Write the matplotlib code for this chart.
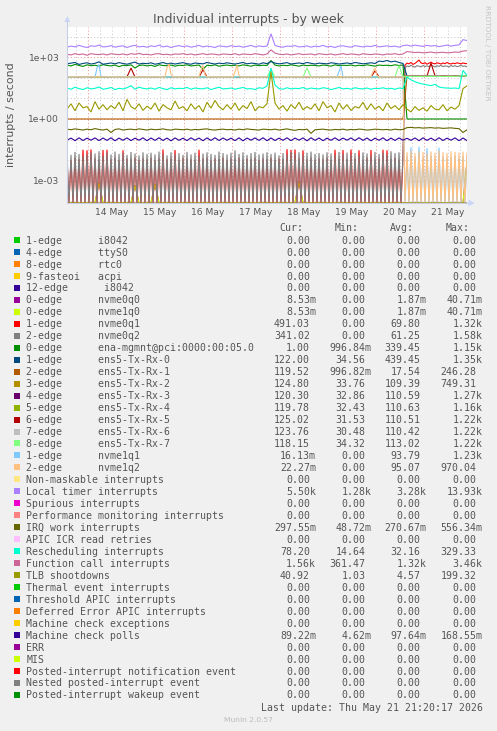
import numpy as np
import matplotlib
matplotlib.use("Agg")
import matplotlib.pyplot as plt
from matplotlib.patches import Rectangle, Polygon
from matplotlib.lines import Line2D

# ---------------- time axes (hours since 13 May 13:45) ----------------
HOURS_2H = np.arange(0, 201, 2)   # 101 samples
HOURS_1H = np.arange(0, 201, 1)   # 201 samples
DAY_LABELS = ['14 May', '15 May', '16 May', '17 May', '18 May', '19 May', '20 May', '21 May']
FIRST_MIDNIGHT = 10.25            # 14 May 00:00 in hours since start

# ---------------- series values (2-hour grid, 101 values) ----------------
LOCAL_TIMER = [
    3100, 3500, 3200, 3800, 3300, 3000, 3600, 3400, 3900, 3200,
    3300, 3700, 3100, 3400, 3600, 3000, 3500, 3800, 3200, 3400,
    3100, 3600, 3300, 3900, 3200, 3500, 3000, 3400, 3700, 3300,
    3600, 3100, 3400, 3800, 3200, 3500, 3300, 3000, 3600, 3400,
    3200, 3700, 3300, 3500, 3100, 3400, 3800, 3200, 3600, 3300,
    3500, 13900, 3800, 3300, 3100, 3500, 3400, 3700, 3200, 3300,
    3600, 3100, 3500, 3300, 3800, 3200, 3400, 3000, 3500, 3600,
    3300, 3100, 3700, 3400, 3200, 3500, 3300, 3800, 3200, 3400,
    3600, 3300, 3500, 3100, 3700, 3900, 3500, 3900, 3600, 3400,
    3800, 3500, 3700, 3300, 3600, 3900, 3500, 3800, 4000, 7200,
    6500]

FUNCTION_CALL = [
    1400, 1300, 1500, 1350, 1450, 1250, 1500, 1400, 1350, 1450,
    1300, 1500, 1400, 1350, 1450, 1300, 1500, 1400, 1550, 1350,
    1400, 1300, 1450, 1500, 1350, 1400, 1300, 1450, 1400, 1500,
    1350, 1450, 1300, 1400, 1500, 1350, 1450, 1400, 1300, 1450,
    1400, 1350, 1500, 1300, 1450, 1400, 1350, 1500, 1400, 1300,
    1450, 2300, 1600, 1400, 1350, 1450, 1300, 1400, 1500, 1350,
    1400, 1450, 1300, 1500, 1400, 1350, 1450, 1300, 1400, 1500,
    1350, 1450, 1400, 1300, 1500, 1400, 1350, 1450, 1400, 1300,
    1450, 1400, 1500, 1350, 1450, 1900, 1800, 1700, 1750, 1650,
    1700, 1800, 1650, 1700, 1750, 1650, 1700, 1800, 1750, 2000,
    2100]

TX_RX_0 = [
    480, 520, 560, 450, 500, 540, 470, 510, 600, 460,
    490, 530, 480, 550, 500, 460, 520, 580, 470, 510,
    490, 540, 460, 500, 560, 480, 520, 470, 510, 550,
    490, 460, 530, 500, 480, 560, 510, 470, 520, 490,
    540, 500, 470, 510, 560, 480, 520, 500, 460, 540,
    490, 620, 520, 480, 510, 550, 470, 500, 530, 490,
    560, 510, 470, 520, 500, 480, 540, 510, 470, 500,
    530, 490, 560, 520, 480, 510, 540, 500, 650, 620,
    700, 600, 650, 560, 500, 125, 118, 122, 120, 115,
    124, 119, 121, 117, 123, 120, 118, 122, 119, 121,
    122]

ENA_MGMNT = [
    420, 380, 450, 400, 360, 430, 390, 410, 370, 440,
    400, 380, 420, 350, 410, 390, 430, 300, 400, 420,
    380, 410, 360, 430, 400, 390, 420, 370, 410, 400,
    430, 380, 400, 420, 260, 410, 390, 430, 370, 400,
    420, 390, 410, 380, 430, 400, 370, 420, 390, 410,
    400, 700, 420, 380, 410, 390, 430, 400, 370, 420,
    390, 410, 400, 380, 420, 400, 370, 430, 390, 410,
    400, 420, 380, 410, 390, 430, 400, 370, 420, 400,
    410, 390, 430, 400, 420, 1.0, 1.0, 1.0, 1.0, 1.0,
    1.0, 1.0, 1.0, 1.0, 1.0, 1.0, 1.0, 1.0, 1.0, 1.0,
    1.0]

TX_RX_1 = [
    1.0, 1.0, 1.0, 1.0, 1.0, 1.0, 1.0, 1.0, 1.0, 1.0,
    1.0, 1.0, 1.0, 1.0, 1.0, 1.0, 1.0, 1.0, 1.0, 1.0,
    1.0, 1.0, 1.0, 1.0, 1.0, 1.0, 1.0, 1.0, 1.0, 1.0,
    1.0, 1.0, 1.0, 1.0, 1.0, 1.0, 1.0, 1.0, 1.0, 1.0,
    1.0, 1.0, 1.0, 1.0, 1.0, 1.0, 1.0, 1.0, 1.0, 1.0,
    1.0, 1.0, 1.0, 1.0, 1.0, 1.0, 1.0, 1.0, 1.0, 1.0,
    1.0, 1.0, 1.0, 1.0, 1.0, 1.0, 1.0, 1.0, 1.0, 1.0,
    1.0, 1.0, 1.0, 1.0, 1.0, 1.0, 1.0, 1.0, 1.0, 1.0,
    1.0, 1.0, 1.0, 1.0, 1.0, 118, 121, 119, 122, 120,
    117, 121, 119, 123, 120, 118, 122, 120, 119, 121,
    120]

TX_RX_2 = [
    112, 108, 115, 110, 113, 107, 114, 111, 109, 116,
    110, 113, 108, 112, 115, 109, 111, 114, 107, 112,
    113, 109, 115, 110, 108, 114, 111, 112, 109, 113,
    110, 115, 108, 112, 111, 109, 114, 110, 113, 108,
    112, 115, 109, 111, 113, 108, 114, 110, 112, 109,
    113, 111, 108, 115, 110, 112, 109, 114, 111, 108,
    112, 115, 110, 109, 113, 111, 108, 114, 112, 110,
    109, 113, 111, 115, 108, 112, 110, 114, 109, 111,
    113, 108, 112, 115, 110, 126, 122, 124, 120, 123,
    121, 125, 119, 122, 124, 120, 123, 121, 125, 122,
    125]

TX_RX_3 = [
    110, 114, 109, 112, 108, 115, 111, 113, 110, 107,
    112, 109, 114, 111, 108, 113, 110, 115, 112, 109,
    111, 114, 108, 112, 110, 113, 109, 115, 111, 108,
    113, 110, 112, 109, 114, 111, 108, 113, 110, 112,
    109, 114, 111, 108, 112, 110, 115, 109, 113, 111,
    108, 112, 114, 110, 109, 113, 111, 108, 115, 112,
    110, 113, 109, 112, 114, 108, 111, 110, 113, 109,
    112, 115, 110, 108, 113, 111, 109, 114, 112, 110,
    108, 113, 111, 109, 112, 118, 121, 119, 122, 120,
    123, 119, 121, 118, 122, 120, 124, 119, 121, 120,
    120]

TX_RX_4 = [
    111, 109, 113, 112, 108, 114, 110, 112, 109, 115,
    110, 112, 111, 108, 114, 109, 113, 110, 112, 111,
    109, 113, 110, 114, 111, 108, 112, 115, 109, 111,
    112, 108, 113, 110, 115, 109, 111, 112, 108, 114,
    110, 113, 109, 112, 111, 114, 108, 110, 113, 112,
    111, 109, 114, 112, 108, 113, 110, 111, 109, 115,
    113, 110, 112, 108, 111, 114, 109, 113, 110, 112,
    111, 108, 114, 110, 112, 109, 113, 111, 115, 108,
    112, 110, 113, 111, 109, 117, 120, 118, 121, 119,
    122, 118, 120, 117, 121, 119, 122, 118, 120, 119,
    120]

TX_RX_5 = [
    112, 110, 114, 109, 113, 111, 108, 115, 110, 112,
    109, 113, 111, 114, 108, 112, 300, 110, 113, 109,
    114, 111, 108, 112, 110, 115, 109, 113, 111, 108,
    112, 114, 110, 109, 250, 111, 113, 108, 112, 110,
    115, 109, 111, 113, 108, 112, 110, 114, 109, 111,
    113, 108, 112, 110, 115, 109, 111, 113, 108, 112,
    110, 114, 109, 111, 113, 108, 112, 115, 110, 109,
    113, 111, 108, 112, 114, 110, 109, 220, 111, 113,
    108, 112, 110, 114, 109, 124, 127, 123, 126, 125,
    122, 520, 126, 123, 127, 124, 125, 122, 126, 124,
    125]

TX_RX_6 = [
    110, 112, 109, 113, 111, 108, 114, 110, 112, 109,
    113, 111, 108, 112, 110, 114, 109, 111, 113, 108,
    112, 110, 114, 109, 111, 113, 108, 112, 110, 115,
    109, 111, 113, 108, 112, 110, 114, 109, 111, 113,
    108, 112, 110, 115, 109, 111, 113, 108, 112, 110,
    114, 109, 111, 113, 108, 112, 110, 114, 109, 111,
    113, 108, 112, 110, 115, 109, 111, 113, 108, 112,
    110, 114, 109, 111, 113, 108, 112, 110, 114, 109,
    111, 113, 108, 112, 110, 122, 125, 121, 124, 123,
    120, 124, 122, 125, 121, 123, 124, 120, 122, 124,
    124]

TX_RX_7 = [
    113, 110, 112, 115, 109, 111, 114, 112, 110, 113,
    111, 114, 109, 112, 113, 110, 115, 111, 112, 109,
    114, 112, 110, 113, 111, 109, 115, 112, 110, 113,
    112, 109, 114, 111, 113, 110, 112, 115, 109, 111,
    113, 110, 112, 114, 109, 112, 111, 113, 110, 115,
    112, 250, 113, 110, 112, 114, 109, 111, 113, 110,
    300, 112, 110, 114, 111, 109, 113, 112, 110, 115,
    111, 113, 110, 112, 114, 109, 111, 113, 110, 112,
    114, 111, 113, 400, 115, 118, 116, 119, 117, 118,
    120, 117, 119, 116, 118, 117, 119, 118, 121, 130,
    118]

RESCHEDULING = [
    32, 28, 35, 30, 27, 33, 29, 31, 36, 28,
    30, 34, 27, 31, 29, 33, 42, 28, 35, 31,
    29, 32, 28, 34, 30, 27, 33, 29, 31, 30,
    34, 28, 32, 30, 29, 33, 27, 31, 35, 29,
    30, 32, 28, 31, 34, 29, 30, 27, 33, 31,
    40, 300, 45, 30, 28, 33, 29, 31, 30, 34,
    28, 32, 30, 29, 33, 31, 27, 30, 34, 29,
    31, 28, 33, 30, 29, 32, 28, 31, 30, 33,
    29, 31, 28, 32, 30, 110, 80, 65, 55, 50,
    45, 42, 48, 36, 33, 32, 31, 32, 30, 230,
    130]

TLB_SHOOTDOWNS = [
    3.0, 5.5, 2.5, 6.0, 3.5, 4.0, 2.2, 7.0, 3.0, 5.0,
    2.8, 4.5, 3.2, 6.5, 2.5, 9.0, 4.0, 3.0, 5.5, 2.6,
    4.2, 3.0, 6.0, 2.4, 5.0, 3.5, 2.8, 7.5, 3.2, 4.0,
    2.5, 5.5, 3.0, 4.5, 2.2, 6.5, 3.4, 8.0, 4.0, 2.8,
    5.0, 3.0, 6.0, 2.6, 4.5, 3.2, 7.0, 2.5, 4.0, 3.5,
    5.5, 199, 6.0, 3.0, 4.5, 2.4, 5.0, 3.2, 6.5, 2.8,
    4.0, 3.0, 5.5, 2.5, 7.0, 3.5, 4.5, 2.2, 6.0, 3.0,
    5.0, 2.6, 4.0, 3.4, 6.5, 2.8, 5.5, 3.0, 4.2, 2.5,
    6.0, 3.2, 4.5, 2.8, 5.0, 3.0, 2.2, 4.0, 2.6, 3.5,
    2.4, 4.5, 3.0, 2.8, 5.0, 2.5, 3.8, 3.0, 4.5, 30,
    41]

IRQ_WORK = [
    0.32, 0.30, 0.33, 0.31, 0.29, 0.32, 0.30, 0.34, 0.31, 0.29,
    0.32, 0.22, 0.31, 0.33, 0.29, 0.31, 0.32, 0.30, 0.33, 0.31,
    0.29, 0.32, 0.30, 0.31, 0.33, 0.30, 0.29, 0.32, 0.31, 0.30,
    0.32, 0.29, 0.31, 0.30, 0.32, 0.33, 0.30, 0.29, 0.31, 0.32,
    0.30, 0.31, 0.29, 0.32, 0.30, 0.33, 0.31, 0.30, 0.29, 0.32,
    0.31, 0.30, 0.32, 0.29, 0.31, 0.33, 0.30, 0.28, 0.31, 0.30,
    0.32, 0.20, 0.30, 0.31, 0.32, 0.30, 0.29, 0.31, 0.30, 0.32,
    0.29, 0.31, 0.30, 0.32, 0.31, 0.29, 0.30, 0.32, 0.31, 0.30,
    0.31, 0.29, 0.32, 0.30, 0.31, 0.38, 0.39, 0.37, 0.38, 0.36,
    0.37, 0.38, 0.36, 0.37, 0.35, 0.36, 0.37, 0.35, 0.34, 0.22,
    0.30]

MC_POLLS = [
    0.092, 0.118, 0.088, 0.121, 0.090, 0.117, 0.093, 0.120, 0.089, 0.119,
    0.091, 0.122, 0.087, 0.118, 0.092, 0.120, 0.089, 0.117, 0.093, 0.121,
    0.088, 0.119, 0.091, 0.122, 0.090, 0.118, 0.087, 0.120, 0.092, 0.117,
    0.089, 0.121, 0.093, 0.118, 0.088, 0.120, 0.091, 0.122, 0.090, 0.119,
    0.092, 0.117, 0.089, 0.121, 0.087, 0.118, 0.093, 0.120, 0.091, 0.122,
    0.088, 0.119, 0.090, 0.117, 0.092, 0.121, 0.089, 0.118, 0.093, 0.120,
    0.087, 0.122, 0.091, 0.119, 0.088, 0.117, 0.092, 0.121, 0.090, 0.118,
    0.093, 0.120, 0.089, 0.122, 0.091, 0.119, 0.087, 0.117, 0.092, 0.121,
    0.088, 0.118, 0.090, 0.120, 0.093, 0.115, 0.092, 0.119, 0.088, 0.121,
    0.091, 0.118, 0.089, 0.122, 0.090, 0.117, 0.093, 0.120, 0.088, 0.119,
    0.089]

NVME_Q0 = [
    0, 0, 0, 0, 0, 0, 0, 0, 0.0008, 0,
    0, 0, 0, 0, 0, 0, 0, 0.0006, 0, 0,
    0, 0, 0.0007, 0, 0, 0, 0, 0, 0, 0,
    0, 0, 0, 0, 0, 0, 0, 0, 0, 0,
    0, 0, 0, 0, 0, 0, 0, 0, 0, 0,
    0, 0, 0, 0, 0, 0, 0, 0, 0.0009, 0,
    0, 0, 0, 0, 0, 0, 0, 0, 0, 0,
    0, 0, 0, 0, 0, 0, 0, 0, 0, 0,
    0, 0, 0, 0, 0, 0, 0, 0, 0, 0,
    0, 0, 0, 0, 0, 0, 0, 0, 0, 0,
    0.0085]

# ---------------- series values (1-hour grid, 201 values) ----------------
NVME0Q1 = [
    0.012, 0, 0.010, 0, 0.013, 0, 0.011, 0, 0.032, 0,
    0.030, 0, 0.033, 0, 0.012, 0, 0.010, 0, 0.031, 0,
    0.032, 0, 0.011, 0, 0.013, 0, 0.010, 0, 0.030, 0,
    0.012, 0, 0.011, 0, 0.013, 0, 0.010, 0, 0.012, 0,
    0.011, 0, 0.013, 0, 0.010, 0, 0.012, 0, 0.033, 0,
    0.011, 0, 0.012, 0, 0.031, 0, 0.010, 0, 0.013, 0,
    0.012, 0, 0.011, 0, 0.010, 0, 0.032, 0, 0.012, 0,
    0.013, 0, 0.010, 0, 0.012, 0, 0.011, 0, 0.013, 0,
    0.010, 0, 0.012, 0, 0.011, 0, 0.013, 0, 0.010, 0,
    0.012, 0, 0.011, 0, 0.013, 0, 0.010, 0, 0.012, 0,
    0.011, 0, 0.013, 0, 0.010, 0, 0.012, 0, 0.011, 0,
    0.034, 0, 0.031, 0, 0.033, 0, 0.012, 0, 0.030, 0,
    0.011, 0, 0.013, 0, 0.010, 0, 0.012, 0, 0.011, 0,
    0.013, 0, 0.010, 0, 0.032, 0, 0.012, 0, 0.031, 0,
    0.011, 0, 0.033, 0, 0.012, 0, 0.030, 0, 0.010, 0,
    0.013, 0, 0.031, 0, 0.011, 0, 0.012, 0, 0.032, 0,
    0.030, 0, 0.011, 0, 0.013, 0, 0.010, 0, 0.012, 420,
    520, 480, 560, 450, 510, 600, 740, 530, 490, 550,
    460, 520, 580, 500, 480, 540, 510, 470, 530, 490,
    560, 500, 470, 520, 490, 540, 510, 480, 530, 500,
    491]

NVME0Q2 = [
    0.022, 0, 0.018, 0, 0.025, 0, 0.020, 0, 0.016, 0,
    0.019, 0, 0.024, 0, 0.021, 0, 0.027, 0, 0.017, 0,
    0.023, 0, 0.019, 0, 0.026, 0, 0.020, 0, 0.022, 0,
    0.018, 0, 0.025, 0, 0.021, 0, 0.017, 0, 0.024, 0,
    0.020, 0, 0.023, 0, 0.019, 0, 0.026, 0, 0.021, 0,
    0.017, 0, 0.024, 0, 0.020, 0, 0.022, 0, 0.018, 0,
    0.025, 0, 0.019, 0, 0.023, 0, 0.017, 0, 0.021, 0,
    0.024, 0, 0.020, 0, 0.018, 0, 0.026, 0, 0.022, 0,
    0.019, 0, 0.023, 0, 0.030, 0, 0.020, 0, 0.024, 0,
    0.018, 0, 0.022, 0, 0.025, 0, 0.019, 0, 0.021, 0,
    0.024, 0, 0.020, 0, 0.023, 0, 0.017, 0, 0.022, 0,
    0.019, 0, 0.025, 0, 0.021, 0, 0.024, 0, 0.018, 0,
    0.023, 0, 0.026, 0, 0.020, 0, 0.022, 0, 0.019, 0,
    0.024, 0, 0.021, 0, 0.018, 0, 0.025, 0, 0.020, 0,
    0.023, 0, 0.019, 0, 0.022, 0, 0.017, 0, 0.024, 0,
    0.021, 0, 0.018, 0, 0.025, 0, 0.020, 0, 0.023, 0,
    0.019, 0, 0.027, 0, 0.022, 0, 0.024, 0, 0.021, 300,
    380, 350, 410, 360, 330, 390, 370, 340, 400, 360,
    380, 350, 420, 370, 340, 390, 360, 410, 350, 380,
    370, 340, 400, 360, 390, 350, 370, 410, 360, 380,
    341]

NVME1Q1 = [
    112, 110, 113, 111, 109, 114, 112, 110, 113, 111,
    109, 112, 114, 110, 111, 300, 450, 112, 110, 113,
    111, 109, 112, 114, 110, 113, 111, 108, 112, 110,
    113, 111, 109, 114, 112, 110, 113, 111, 109, 112,
    110, 114, 111, 109, 113, 112, 110, 111, 114, 109,
    112, 110, 113, 111, 109, 112, 114, 110, 111, 113,
    109, 112, 110, 114, 111, 113, 110, 109, 112, 111,
    114, 110, 112, 109, 113, 111, 110, 112, 114, 109,
    111, 113, 110, 112, 109, 114, 111, 110, 113, 112,
    109, 111, 114, 110, 112, 113, 109, 111, 110, 114,
    112, 109, 113, 111, 110, 112, 114, 109, 111, 113,
    110, 112, 109, 114, 111, 110, 113, 112, 109, 111,
    114, 110, 112, 113, 109, 111, 110, 114, 112, 109,
    113, 111, 110, 112, 114, 109, 200, 380, 112, 110,
    113, 109, 111, 114, 110, 112, 113, 109, 111, 110,
    114, 112, 109, 113, 111, 110, 112, 114, 109, 111,
    113, 110, 112, 109, 114, 111, 110, 113, 112, 0,
    0.015, 0, 0.042, 0, 0.014, 0, 0.045, 0, 0.013, 0,
    0.038, 0, 0.016, 0, 0.013, 0, 0.041, 0, 0.015, 0,
    0.012, 0, 0.014, 0, 0.016, 0, 0.013, 0, 0.015, 0,
    0.016]

NVME1Q2 = [
    110, 113, 111, 109, 112, 114, 110, 112, 113, 111,
    109, 112, 110, 114, 111, 113, 109, 112, 110, 111,
    114, 112, 109, 111, 113, 110, 112, 114, 109, 111,
    112, 110, 113, 111, 109, 114, 112, 110, 111, 113,
    109, 112, 114, 110, 111, 113, 112, 109, 110, 114,
    300, 480, 150, 112, 110, 113, 111, 109, 112, 114,
    110, 111, 113, 112, 109, 110, 114, 250, 400, 140,
    112, 110, 113, 111, 109, 114, 112, 110, 111, 113,
    109, 112, 114, 110, 200, 420, 130, 112, 109, 111,
    113, 110, 112, 114, 109, 111, 113, 110, 112, 109,
    114, 111, 110, 113, 112, 109, 111, 114, 110, 112,
    113, 109, 111, 110, 114, 112, 109, 113, 111, 110,
    112, 114, 109, 111, 113, 110, 112, 109, 114, 111,
    110, 113, 112, 109, 111, 114, 110, 112, 113, 109,
    111, 110, 114, 112, 109, 113, 111, 110, 112, 114,
    109, 111, 113, 200, 300, 130, 112, 110, 113, 111,
    109, 114, 112, 110, 111, 113, 109, 112, 110, 0,
    0.024, 0, 0.028, 0, 0.022, 0, 0.027, 0, 0.025, 0,
    0.021, 0, 0.026, 0, 0.023, 0, 0.028, 0, 0.024, 0,
    0.022, 0, 0.027, 0, 0.025, 0, 0.023, 0, 0.026, 0,
    0.0223]

# ---------------- legend ----------------
LEGEND_LABELS = [
    "1-edge      i8042", "4-edge      ttyS0", "8-edge      rtc0", "9-fasteoi   acpi",
    "12-edge      i8042", "0-edge      nvme0q0", "0-edge      nvme1q0", "1-edge      nvme0q1",
    "2-edge      nvme0q2", "0-edge      ena-mgmnt@pci:0000:00:05.0",
    "1-edge      ens5-Tx-Rx-0", "2-edge      ens5-Tx-Rx-1", "3-edge      ens5-Tx-Rx-2",
    "4-edge      ens5-Tx-Rx-3", "5-edge      ens5-Tx-Rx-4", "6-edge      ens5-Tx-Rx-5",
    "7-edge      ens5-Tx-Rx-6", "8-edge      ens5-Tx-Rx-7", "1-edge      nvme1q1",
    "2-edge      nvme1q2", "Non-maskable interrupts", "Local timer interrupts",
    "Spurious interrupts", "Performance monitoring interrupts", "IRQ work interrupts",
    "APIC ICR read retries", "Rescheduling interrupts", "Function call interrupts",
    "TLB shootdowns", "Thermal event interrupts", "Threshold APIC interrupts",
    "Deferred Error APIC interrupts", "Machine check exceptions", "Machine check polls",
    "ERR", "MIS", "Posted-interrupt notification event", "Nested posted-interrupt event",
    "Posted-interrupt wakeup event"]

COLORS = [
    "#00CC00", "#0066B3", "#FF8000", "#FFCC00", "#330099", "#990099", "#CCFF00", "#FF0000",
    "#808080", "#008F00", "#00487D", "#B35A00", "#B38F00", "#6B006B", "#8FB300", "#B30000",
    "#BEBEBE", "#80FF80", "#80C9FF", "#FFC080", "#FFE680", "#AA80FF", "#EE00CC", "#FF8080",
    "#666600", "#FFBFFF", "#00FFCC", "#CC6699", "#999900", "#00CC00", "#0066B3", "#FF8000",
    "#FFCC00", "#330099", "#990099", "#CCFF00", "#FF0000", "#808080", "#008F00"]

CUR = [0, 0, 0, 0, 0, 0.00853, 0.00853, 491.03, 341.02, 1.00, 122.00, 119.52, 124.80,
       120.30, 119.78, 125.02, 123.76, 118.15, 0.01613, 0.02227, 0, 5500, 0, 0, 0.29755,
       0, 78.20, 1560, 40.92, 0, 0, 0, 0, 0.08922, 0, 0, 0, 0, 0]
MIN = [0, 0, 0, 0, 0, 0, 0, 0, 0, 0.99684, 34.56, 0.99682, 33.76, 32.86, 32.43, 31.53,
       30.48, 34.32, 0, 0, 0, 1280, 0, 0, 0.04872, 0, 14.64, 361.47, 1.03, 0, 0, 0, 0,
       0.00462, 0, 0, 0, 0, 0]
AVG = [0, 0, 0, 0, 0, 0.00187, 0.00187, 69.80, 61.25, 339.45, 439.45, 17.54, 109.39,
       110.59, 110.63, 110.51, 110.42, 113.02, 93.79, 95.07, 0, 3280, 0, 0, 0.27067, 0,
       32.16, 1320, 4.57, 0, 0, 0, 0, 0.09764, 0, 0, 0, 0, 0]
MAX = [0, 0, 0, 0, 0, 0.04071, 0.04071, 1320, 1580, 1150, 1350, 246.28, 749.31, 1270,
       1160, 1220, 1220, 1220, 1230, 970.04, 0, 13930, 0, 0, 0.55634, 0, 329.33, 3460,
       199.32, 0, 0, 0, 0, 0.16855, 0, 0, 0, 0, 0]

# which data belongs to which legend entry (None = constant zero)
SERIES = {
    5: (HOURS_2H, NVME_Q0), 6: (HOURS_2H, NVME_Q0),
    7: (HOURS_1H, NVME0Q1), 8: (HOURS_1H, NVME0Q2),
    9: (HOURS_2H, ENA_MGMNT), 10: (HOURS_2H, TX_RX_0), 11: (HOURS_2H, TX_RX_1),
    12: (HOURS_2H, TX_RX_2), 13: (HOURS_2H, TX_RX_3), 14: (HOURS_2H, TX_RX_4),
    15: (HOURS_2H, TX_RX_5), 16: (HOURS_2H, TX_RX_6), 17: (HOURS_2H, TX_RX_7),
    18: (HOURS_1H, NVME1Q1), 19: (HOURS_1H, NVME1Q2),
    21: (HOURS_2H, LOCAL_TIMER), 24: (HOURS_2H, IRQ_WORK), 26: (HOURS_2H, RESCHEDULING),
    27: (HOURS_2H, FUNCTION_CALL), 28: (HOURS_2H, TLB_SHOOTDOWNS), 33: (HOURS_2H, MC_POLLS),
}

# ---------------- figure ----------------
W, H = 497, 731
BG = "#F0F0F0"
TXT = "#555555"
fig = plt.figure(figsize=(W / 100, H / 100), dpi=100, facecolor=BG)


def fx(x):
    return x / W


def fy(y):
    return 1 - y / H


PL, PR, PT, PB = 67, 467, 26.7, 202.7
ax = fig.add_axes([fx(PL), fy(PB), (PR - PL) / W, (PB - PT) / H])
ax.set_facecolor("white")
ax.set_yscale("log")
YMIN, YMAX = 8.5e-5, 3.07e4
ax.set_ylim(YMIN, YMAX)
ax.set_xlim(0, 200)
for s in ax.spines.values():
    s.set_visible(False)

# grid
dots = (0, (1.2, 2.2))
for e in range(-4, 5):
    v = 10.0 ** e
    major = e in (-3, 0, 3)
    ax.axhline(v, color="#EBA0A0" if major else "#CDCDCD", lw=0.7, ls=dots, zorder=0.5)
k = 0
t = FIRST_MIDNIGHT - 6
while t <= 200:
    if t >= 0:
        major = abs(((t - FIRST_MIDNIGHT) / 24) - round((t - FIRST_MIDNIGHT) / 24)) < 1e-6
        ax.axvline(t, color="#EBA0A0" if major else "#CDCDCD", lw=0.7, ls=dots, zorder=0.5)
    t += 6

# series in legend order
for i, col in enumerate(COLORS):
    if i in SERIES:
        tt, vals = SERIES[i]
        vv = np.maximum(np.asarray(vals, dtype=float), YMIN)
        ax.plot(tt, vv, color=col, lw=0.8, zorder=2, solid_joinstyle="miter")
    else:
        ax.plot([0, 200], [YMIN, YMIN], color=col, lw=0.8, zorder=2)

# ticks
ax.set_yticks([1e-3, 1, 1e3])
ax.set_yticklabels(["1e-03", "1e+00", "1e+03"])
ax.yaxis.set_minor_locator(matplotlib.ticker.NullLocator())
ax.set_xticks([FIRST_MIDNIGHT + 12 + 24 * d for d in range(len(DAY_LABELS))])
ax.set_xticklabels(DAY_LABELS)
ax.tick_params(axis="both", length=0, labelsize=6.6, colors=TXT)
ax.tick_params(axis="y", pad=5.6)
ax.tick_params(axis="x", pad=3.5)

# axes lines and arrows
AX_COL = "#C8CEE4"
fig.add_artist(Line2D([fx(PL), fx(PL)], [fy(PB), fy(21)], transform=fig.transFigure,
                      color=AX_COL, lw=0.8))
fig.add_artist(Line2D([fx(PL), fx(470)], [fy(PB), fy(PB)], transform=fig.transFigure,
                      color=AX_COL, lw=0.8, zorder=0))
ARROW_COL = "#C9D6F7"
fig.add_artist(Polygon([(fx(64.3), fy(22)), (fx(70.3), fy(22)), (fx(67.3), fy(16))],
                       closed=True, transform=fig.transFigure, fc=ARROW_COL, ec="none"))
fig.add_artist(Polygon([(fx(468.5), fy(199.5)), (fx(468.5), fy(206.5)), (fx(474.5), fy(203))],
                       closed=True, transform=fig.transFigure, fc=ARROW_COL, ec="none"))

# titles
fig.text(fx(248), fy(19), "Individual interrupts - by week", ha="center", va="center",
         fontsize=9, color=TXT, family="DejaVu Sans")
fig.text(fx(11), fy(114.7), "interrupts / second", rotation=90, ha="center", va="center",
         fontsize=7.9, color=TXT, family="DejaVu Sans")
fig.text(fx(487), fy(5), "RRDTOOL / TOBI OETIKER", rotation=270, ha="center", va="top",
         fontsize=5.4, color="#C4C4C4", family="DejaVu Sans")

# legend
MONO = "DejaVu Sans Mono"
LFS = 7.1


def fmt(v):
    if v == 0:
        return "0.00", False
    if v >= 1000:
        return f"{v / 1000 + 1e-9:.2f}k", True
    if v < 1:
        return f"{v * 1000 + 1e-9:.2f}m", True
    return f"{v + 1e-9:.2f}", False


HDR_Y = 227.3
for name, xr in (("Cur:", 303), ("Min:", 359), ("Avg:", 414), ("Max:", 470)):
    fig.text(fx(xr), fy(HDR_Y + 3.6), name, ha="right", va="baseline", family=MONO,
             fontsize=LFS, color=TXT)

COL_RIGHT = (310, 365.7, 420.7, 476.7)
ROW0, ROWDY = 240.0, 11.97
for r, lab in enumerate(LEGEND_LABELS):
    y = ROW0 + r * ROWDY
    fig.add_artist(Rectangle((fx(14), fy(y + 3)), 6 / W, 6 / H, transform=fig.transFigure,
                             fc=COLORS[r], ec="none"))
    fig.text(fx(26.3), fy(y + 3.6), lab, ha="left", va="baseline", family=MONO,
             fontsize=LFS, color=TXT)
    for val, xr in zip((CUR[r], MIN[r], AVG[r], MAX[r]), COL_RIGHT):
        s, suf = fmt(val)
        fig.text(fx(xr + (6 if suf else 0)), fy(y + 3.6), s, ha="right", va="baseline",
                 family=MONO, fontsize=LFS, color=TXT)

fig.text(fx(482.7), fy(707.7 + 3.6), "Last update: Thu May 21 21:20:17 2026", ha="right",
         va="baseline", family=MONO, fontsize=LFS, color=TXT)
fig.text(fx(248), fy(720), "Munin 2.0.57", ha="center", va="center", fontsize=5.4,
         color="#BBBBBB", family="DejaVu Sans")

fig.savefig("out.png", dpi=100, facecolor=BG)
